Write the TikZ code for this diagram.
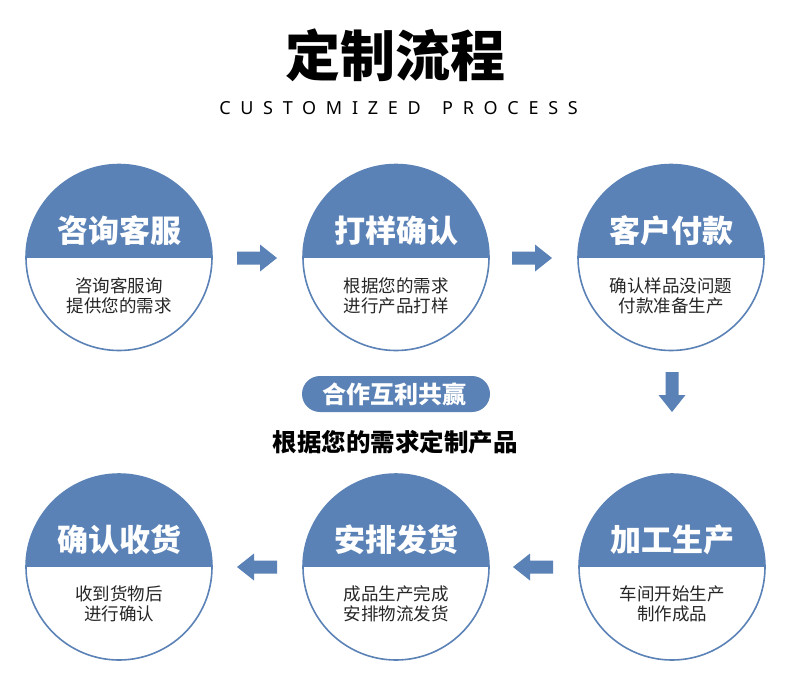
\documentclass[tikz,border=0pt]{standalone}
\usepackage{fontspec}
\newfontfamily\cjk{Noto Sans CJK SC}
\newfontfamily\latinsub{Noto Sans}[LetterSpace=54]
\definecolor{mainblue}{HTML}{5B82B6}
\tikzset{
  stepcircle/.style={circle, draw=mainblue, line width=1.6pt, minimum size=186pt, inner sep=0pt,
    path picture={\fill[mainblue] (path picture bounding box.north west) rectangle (path picture bounding box.east);}},
  heading/.style={font=\cjk\bfseries\fontsize{31}{31}\selectfont, text=white, inner sep=0pt},
  bodytext/.style={font=\cjk\fontsize{17.5}{20}\selectfont, align=center, text=black!85, inner sep=0pt},
  subtext/.style={font=\latinsub\fontsize{18}{18}\selectfont, inner sep=0pt, anchor=base},
  pics/blockarrow/.style={code={
    \fill[mainblue] (-20,-6.5) -- (3,-6.5) -- (3,-13.5) -- (20,0) -- (3,13.5) -- (3,6.5) -- (-20,6.5) -- cycle;}},
}
\begin{document}
\begin{tikzpicture}[x=1pt,y=-1pt]
\useasboundingbox[fill=white] (0,0) rectangle (790,694);
% title
\node[font=\cjk\bfseries\fontsize{55}{55}\selectfont, inner sep=0pt] (title) at (395,55) {定制流程};
\node[subtext] (sub1) at (320,114) {CUSTOMIZED};
\node[subtext] (sub2) at (510,114) {PROCESS};
% row 1
\node[stepcircle] (c1) at (119,257.5) {};
\node[stepcircle] (c2) at (396,257.5) {};
\node[stepcircle] (c3) at (671,257.5) {};
\node[heading] (h1) at (119,231) {咨询客服};
\node[heading] (h2) at (396,231) {打样确认};
\node[heading] (h3) at (671,231) {客户付款};
\node[bodytext] (b1) at (119,296) {咨询客服询\\提供您的需求};
\node[bodytext] (b2) at (396,296) {根据您的需求\\进行产品打样};
\node[bodytext] (b3) at (671,296) {确认样品没问题\\付款准备生产};
% row 2
\node[stepcircle] (c4) at (672,567) {};
\node[stepcircle] (c5) at (396,567) {};
\node[stepcircle] (c6) at (119,567) {};
\node[heading] (h4) at (672,540) {加工生产};
\node[heading] (h5) at (396,540) {安排发货};
\node[heading] (h6) at (119,540) {确认收货};
\node[bodytext] (b4) at (672,604) {车间开始生产\\制作成品};
\node[bodytext] (b5) at (396,604) {成品生产完成\\安排物流发货};
\node[bodytext] (b6) at (119,604) {收到货物后\\进行确认};
% arrows
\pic (a1) at (257,258) {blockarrow};
\pic (a2) at (532,258) {blockarrow};
\pic[rotate=-90] (a3) at (672,392) {blockarrow};
\pic[rotate=180] (a4) at (533,567) {blockarrow};
\pic[rotate=180] (a5) at (257,567) {blockarrow};
% middle
\node[fill=mainblue, rounded corners=18pt, minimum width=188pt, minimum height=36pt, inner sep=0pt] (pill) at (396,394) {};
\node[font=\cjk\bfseries\fontsize{24}{24}\selectfont, text=white, inner sep=0pt] (pilltext) at (394,394) {合作互利共赢};
\node[font=\cjk\bfseries\fontsize{24.5}{24.5}\selectfont, inner sep=0pt] (slogan) at (395,442) {根据您的需求定制产品};
\end{tikzpicture}
\end{document}
